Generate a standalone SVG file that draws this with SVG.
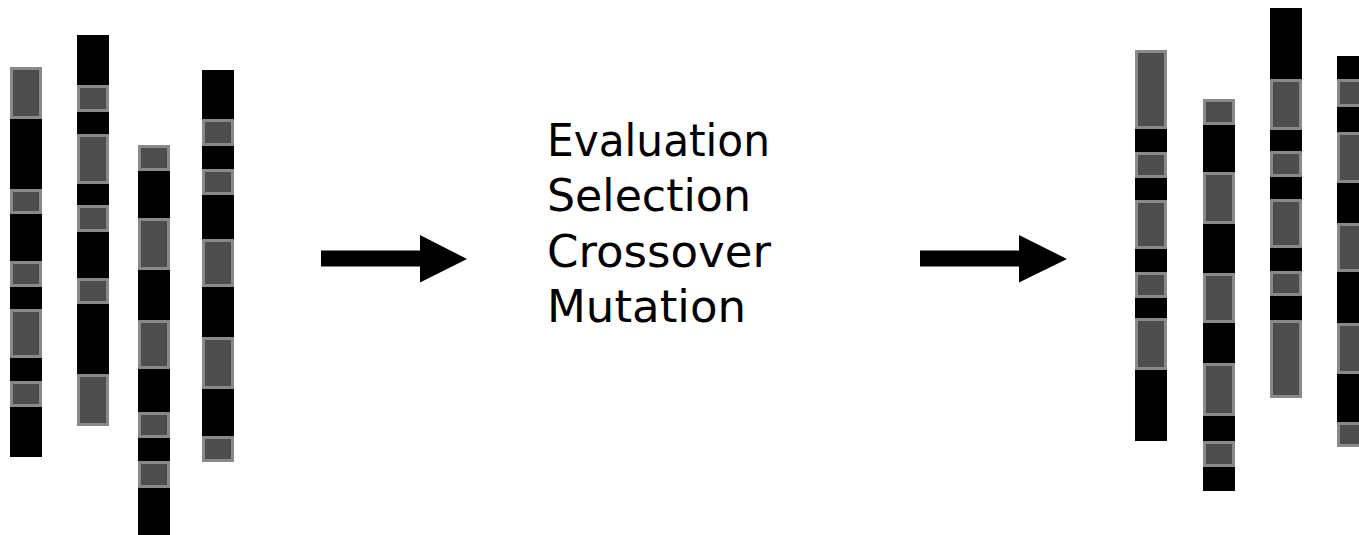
<svg xmlns="http://www.w3.org/2000/svg" width="1359" height="535" viewBox="0 0 1359 535">
<style>
.bar{fill:#000;}
.gene{fill:#4d4d4d;stroke:#878a87;stroke-width:3;}
.arrow{fill:#000;}
.lbl{font-family:"DejaVu Sans","Liberation Sans",sans-serif;font-size:45px;fill:#000;}
</style>
<rect width="1359" height="535" fill="#fff"/>
<g id="chrom1">
<rect class="bar" x="10" y="67" width="32" height="390"/>
<rect class="gene" x="11.5" y="68.5" width="29" height="49"/>
<rect class="gene" x="11.5" y="190.5" width="29" height="22"/>
<rect class="gene" x="11.5" y="262.5" width="29" height="23"/>
<rect class="gene" x="11.5" y="310.5" width="29" height="46"/>
<rect class="gene" x="11.5" y="382.5" width="29" height="23"/>
</g>
<g id="chrom2">
<rect class="bar" x="77" y="35" width="32" height="391"/>
<rect class="gene" x="78.5" y="86.5" width="29" height="24"/>
<rect class="gene" x="78.5" y="135.5" width="29" height="47"/>
<rect class="gene" x="78.5" y="206.5" width="29" height="24"/>
<rect class="gene" x="78.5" y="279.5" width="29" height="23"/>
<rect class="gene" x="78.5" y="375.5" width="29" height="49"/>
</g>
<g id="chrom3">
<rect class="bar" x="138" y="145" width="32" height="390"/>
<rect class="gene" x="139.5" y="146.5" width="29" height="23"/>
<rect class="gene" x="139.5" y="219.5" width="29" height="49"/>
<rect class="gene" x="139.5" y="321.5" width="29" height="46"/>
<rect class="gene" x="139.5" y="413.5" width="29" height="23"/>
<rect class="gene" x="139.5" y="462.5" width="29" height="24"/>
</g>
<g id="chrom4">
<rect class="bar" x="202" y="70" width="32" height="392"/>
<rect class="gene" x="203.5" y="120.5" width="29" height="24"/>
<rect class="gene" x="203.5" y="170.5" width="29" height="23"/>
<rect class="gene" x="203.5" y="240.5" width="29" height="45"/>
<rect class="gene" x="203.5" y="338.5" width="29" height="49"/>
<rect class="gene" x="203.5" y="437.5" width="29" height="23"/>
</g>
<g id="process">
<text class="lbl" x="547" y="156" textLength="223" lengthAdjust="spacingAndGlyphs">Evaluation</text>
<text class="lbl" x="547" y="211" textLength="204" lengthAdjust="spacingAndGlyphs">Selection</text>
<text class="lbl" x="547" y="267" textLength="224" lengthAdjust="spacingAndGlyphs">Crossover</text>
<text class="lbl" x="547" y="322" textLength="199" lengthAdjust="spacingAndGlyphs">Mutation</text>
</g>
<g id="chrom5">
<rect class="bar" x="1135" y="50" width="32" height="391"/>
<rect class="gene" x="1136.5" y="51.5" width="29" height="76"/>
<rect class="gene" x="1136.5" y="153.5" width="29" height="23"/>
<rect class="gene" x="1136.5" y="201.5" width="29" height="46"/>
<rect class="gene" x="1136.5" y="273.5" width="29" height="23"/>
<rect class="gene" x="1136.5" y="319.5" width="29" height="49"/>
</g>
<g id="chrom6">
<rect class="bar" x="1203" y="99" width="32" height="392"/>
<rect class="gene" x="1204.5" y="100.5" width="29" height="23"/>
<rect class="gene" x="1204.5" y="173.5" width="29" height="49"/>
<rect class="gene" x="1204.5" y="274.5" width="29" height="47"/>
<rect class="gene" x="1204.5" y="364.5" width="29" height="50"/>
<rect class="gene" x="1204.5" y="442.5" width="29" height="23"/>
</g>
<g id="chrom7">
<rect class="bar" x="1270" y="8" width="32" height="390"/>
<rect class="gene" x="1271.5" y="80.5" width="29" height="48"/>
<rect class="gene" x="1271.5" y="152.5" width="29" height="23"/>
<rect class="gene" x="1271.5" y="200.5" width="29" height="46"/>
<rect class="gene" x="1271.5" y="272.5" width="29" height="22"/>
<rect class="gene" x="1271.5" y="321.5" width="29" height="75"/>
</g>
<g id="chrom8">
<rect class="bar" x="1337" y="56" width="32" height="391"/>
<rect class="gene" x="1338.5" y="80.5" width="29" height="25"/>
<rect class="gene" x="1338.5" y="133.5" width="29" height="48"/>
<rect class="gene" x="1338.5" y="224.5" width="29" height="46"/>
<rect class="gene" x="1338.5" y="324.5" width="29" height="48"/>
<rect class="gene" x="1338.5" y="423.5" width="29" height="22"/>
</g>
<g id="connectors">
<polygon class="arrow" points="321,250.5 420,250.5 420,235 467,259 420,282.5 420,266.5 321,266.5"/>
<polygon class="arrow" points="920,250.5 1019,250.5 1019,235 1067,259 1019,282.5 1019,266.5 920,266.5"/>
</g>
</svg>
